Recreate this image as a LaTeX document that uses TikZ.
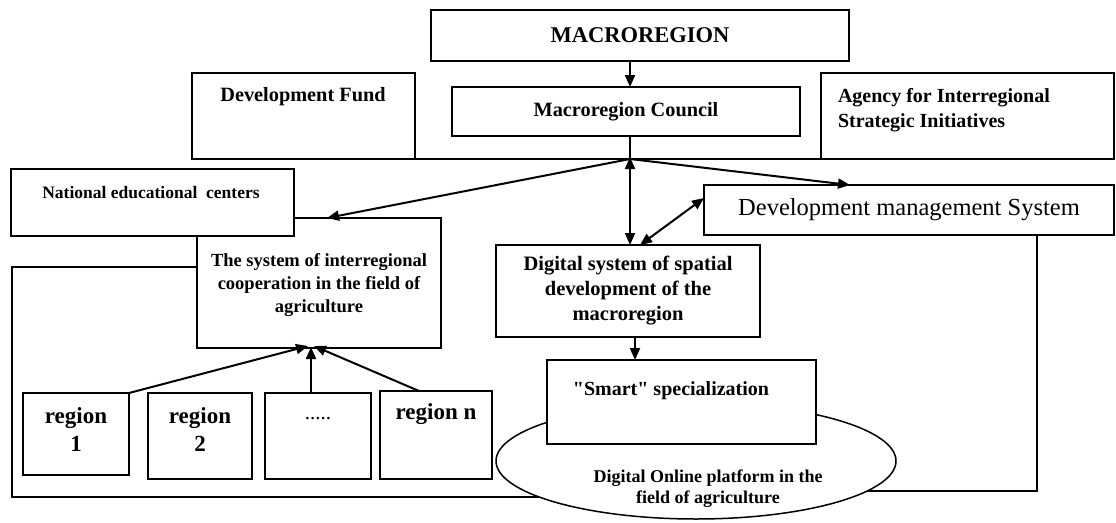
\documentclass[tikz,border=0pt]{standalone}
\usepackage{fontspec}
\setmainfont{Liberation Serif}[Ligatures=TeXOff]
\usetikzlibrary{arrows.meta,shapes.geometric,backgrounds,calc}
\tikzset{
  box/.style={draw, line width=2pt, fill=white, rectangle, inner sep=0pt, outer sep=0pt},
  lbl/.style={inner sep=0pt, outer sep=0pt, align=center},
  conn/.style={line width=2pt},
  arr/.style={line width=2pt, -{Triangle[length=12pt,width=10pt]}},
  darr/.style={line width=2pt, {Triangle[length=12pt,width=10pt]}-{Triangle[length=12pt,width=10pt]}},
  loopline/.style={line width=2pt}
}
\newcommand{\fsz}[2]{\fontsize{#1}{#2}\selectfont}
\begin{document}
\begin{tikzpicture}[x=1pt,y=-1pt]
\useasboundingbox (0,0) rectangle (1116,522);
% top boxes
\node[box, minimum width=418pt, minimum height=51pt, font=\fsz{22.5}{26}\bfseries] (mac) at (640,35.5) {MACROREGION};
\node[box, minimum width=223pt, minimum height=86pt] (df) at (303.5,116) {};
\node[lbl, font=\fsz{20.3}{24}\bfseries] (dft) at (303,97) {Development Fund};
\node[box, minimum width=348pt, minimum height=49pt, font=\fsz{20.3}{24}\bfseries] (cou) at (626,111.5) {Macroregion Council};
\node[box, minimum width=293pt, minimum height=86pt] (ag) at (967.5,116) {};
\node[lbl, anchor=west, align=left, font=\fsz{20}{25}\bfseries] (agt) at (838,110) {Agency for Interregional\\Strategic Initiatives};
% middle
\node[box, minimum width=244pt, minimum height=130pt] (sys) at (319,283) {};
\node[lbl, font=\fsz{18.5}{23}\bfseries] (syst) at (319,285) {The system of interregional\\cooperation in the field of\\agriculture};
\node[box, minimum width=283pt, minimum height=67pt] (nec) at (152.5,202.5) {};
\node[lbl, font=\fsz{17.5}{21}\bfseries] (nect) at (151,193) {National educational\ \ centers};
\node[box, minimum width=410pt, minimum height=50pt, font=\fsz{24.5}{28}] (dms) at (909,210) {Development management System};
\node[box, minimum width=264pt, minimum height=92pt, align=center, font=\fsz{20.5}{25}\bfseries] (dig) at (628,291) {Digital system of spatial\\development of the\\macroregion};
% ellipse and smart
\node[draw, ellipse, line width=1.5pt, fill=white, minimum width=400pt, minimum height=116pt, inner sep=0pt, outer sep=0pt] (ell) at (696,461) {};
\node[lbl, font=\fsz{18}{21}\bfseries] (ellt) at (708,489) {Digital Online platform in the\\field of agriculture};
\node[box, minimum width=269pt, minimum height=84pt] (sm) at (681.5,402) {};
\node[lbl, font=\fsz{20}{24}\bfseries] (smt) at (671,391) {"Smart" specialization};
% regions
\node[box, minimum width=106pt, minimum height=82pt] (r1) at (76,434) {};
\node[lbl, font=\fsz{23}{28}\bfseries] (r1t) at (76,430) {region\\1};
\node[box, minimum width=104pt, minimum height=86pt] (r2) at (200,436) {};
\node[lbl, font=\fsz{23}{28}\bfseries] (r2t) at (200,430) {region\\2};
\node[box, minimum width=106pt, minimum height=86pt] (rd) at (318,436) {};
\node[lbl, font=\fsz{21}{24}] (rdt) at (318,419) {.....};
\node[box, minimum width=112pt, minimum height=88pt] (rn) at (436,435) {};
\node[lbl, font=\fsz{23}{28}\bfseries] (rnt) at (436,414) {region n};
% coordinates
\coordinate (hub) at (630,159);
\coordinate (lt) at (12,267);
\coordinate (lb) at (12,497);
\coordinate (rt) at (1037,491);
% connectors
\draw[arr] (mac.south -| hub) -- (cou.north -| hub);
\draw[conn] (cou.south -| hub) -- (hub);
\draw[conn] (df.south east) -- (ag.south west);
\draw[arr] (hub) -- ([xshift=8pt]sys.north);
\draw[arr] (hub) -- ([xshift=-59pt]dms.north);
\draw[darr] ([yshift=2pt]hub) -- (dig.north -| hub);
\draw[darr] ([yshift=-13pt]dms.north west) -- ([xshift=12pt]dig.north);
\draw[arr] ([xshift=7pt]dig.south) -- ([xshift=7pt]dig.south |- sm.north);
\draw[arr] (r1.north east) -- ([xshift=-11pt,yshift=2pt]sys.south);
\draw[arr] ([xshift=-7pt]rd.north) -- ([xshift=-8pt,yshift=1pt]sys.south);
\draw[arr] ([xshift=39pt]rn.north west) -- ([xshift=-5pt,yshift=2pt]sys.south);
\begin{scope}[on background layer]
\draw[loopline] (lt -| sys.west) -- (lt) -- (lb) -- (lb -| ell.center);
\draw[loopline] (dms.south -| rt) -- (rt) -- (rt -| ell.center);
\end{scope}
\end{tikzpicture}
\end{document}
